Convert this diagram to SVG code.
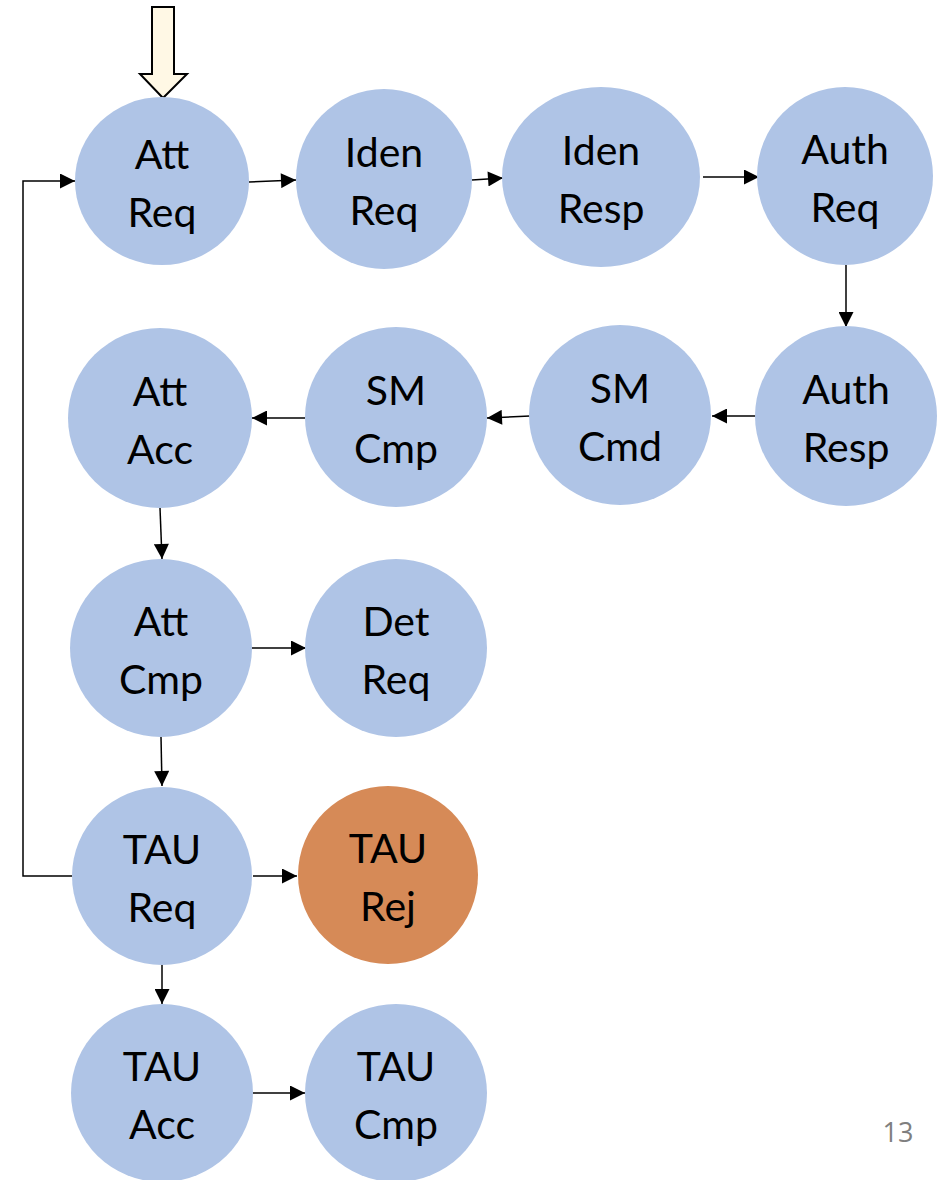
<svg xmlns="http://www.w3.org/2000/svg" width="949" height="1180" viewBox="0 0 949 1180">
<style>
.n{fill:#AFC4E6}
.r{fill:#D68A57}
.t{font-family:Lato,"Open Sans","Liberation Sans",sans-serif;font-size:41px;fill:#000;text-anchor:middle}
.c{fill:none;stroke:#000;stroke-width:1.5}
.pg{font-family:"Open Sans","Liberation Sans",sans-serif;font-size:27px;fill:#7F7F7F;text-anchor:middle}
</style>
<defs>
<marker id="ah" viewBox="0 0 10 10" refX="10" refY="5" markerWidth="16" markerHeight="15" markerUnits="userSpaceOnUse" orient="auto">
<path d="M0,0 L10,5 L0,10 z" fill="#000"/>
</marker>
</defs>
<g id="start-arrow">
<polygon points="152,7 174,7 174,74 187,74 163,98 140,74 152,74" fill="#FFF8E5" stroke="#000" stroke-width="2"/>
</g>
<g id="connectors">
<path class="c" d="M249,182 L296,180" marker-end="url(#ah)"/>
<path class="c" d="M472,180 L503,178" marker-end="url(#ah)"/>
<path class="c" d="M703,177 L759,177" marker-end="url(#ah)"/>
<path class="c" d="M846,265 L846,327" marker-end="url(#ah)"/>
<path class="c" d="M757,416 L712,416" marker-end="url(#ah)"/>
<path class="c" d="M530,416 L487,418" marker-end="url(#ah)"/>
<path class="c" d="M305,418 L252,418" marker-end="url(#ah)"/>
<path class="c" d="M160,508 L162,559" marker-end="url(#ah)"/>
<path class="c" d="M252,648 L306,648" marker-end="url(#ah)"/>
<path class="c" d="M161,737 L162,786" marker-end="url(#ah)"/>
<path class="c" d="M253,876 L297,876" marker-end="url(#ah)"/>
<path class="c" d="M162,965 L162,1004" marker-end="url(#ah)"/>
<path class="c" d="M253,1093 L305,1093" marker-end="url(#ah)"/>
<path class="c" d="M72,876 L23,876 L23,181 L75,181" stroke="#333" marker-end="url(#ah)"/>
</g>
<g id="att-req"><ellipse class="n" cx="162" cy="181" rx="87" ry="84"/><text class="t" x="162" y="169">Att</text><text class="t" x="162" y="227">Req</text></g>
<g id="iden-req"><ellipse class="n" cx="384" cy="179" rx="88" ry="90"/><text class="t" x="384" y="167">Iden</text><text class="t" x="384" y="225">Req</text></g>
<g id="iden-resp"><ellipse class="n" cx="601" cy="177" rx="99" ry="90"/><text class="t" x="601" y="165">Iden</text><text class="t" x="601" y="223">Resp</text></g>
<g id="auth-req"><ellipse class="n" cx="845" cy="176" rx="88" ry="89"/><text class="t" x="845" y="164">Auth</text><text class="t" x="845" y="222">Req</text></g>
<g id="auth-resp"><ellipse class="n" cx="846" cy="416" rx="91" ry="90"/><text class="t" x="846" y="404">Auth</text><text class="t" x="846" y="462">Resp</text></g>
<g id="sm-cmd"><ellipse class="n" cx="620" cy="415" rx="91" ry="90"/><text class="t" x="620" y="403">SM</text><text class="t" x="620" y="461">Cmd</text></g>
<g id="sm-cmp"><ellipse class="n" cx="396" cy="417" rx="91" ry="90"/><text class="t" x="396" y="405">SM</text><text class="t" x="396" y="463">Cmp</text></g>
<g id="att-acc"><ellipse class="n" cx="160" cy="418" rx="92" ry="90"/><text class="t" x="160" y="406">Att</text><text class="t" x="160" y="464">Acc</text></g>
<g id="att-cmp"><ellipse class="n" cx="161" cy="648" rx="91" ry="89"/><text class="t" x="161" y="636">Att</text><text class="t" x="161" y="694">Cmp</text></g>
<g id="det-req"><ellipse class="n" cx="396" cy="648" rx="91" ry="89"/><text class="t" x="396" y="636">Det</text><text class="t" x="396" y="694">Req</text></g>
<g id="tau-req"><ellipse class="n" cx="162" cy="876" rx="90" ry="89"/><text class="t" x="162" y="864">TAU</text><text class="t" x="162" y="922">Req</text></g>
<g id="tau-rej"><ellipse class="r" cx="388" cy="875" rx="90" ry="89"/><text class="t" x="388" y="863">TAU</text><text class="t" x="388" y="921">Rej</text></g>
<g id="tau-acc"><ellipse class="n" cx="162" cy="1093" rx="91" ry="89"/><text class="t" x="162" y="1081">TAU</text><text class="t" x="162" y="1139">Acc</text></g>
<g id="tau-cmp"><ellipse class="n" cx="396" cy="1093" rx="91" ry="89"/><text class="t" x="396" y="1081">TAU</text><text class="t" x="396" y="1139">Cmp</text></g>
<text class="pg" x="898" y="1142">13</text>
</svg>
